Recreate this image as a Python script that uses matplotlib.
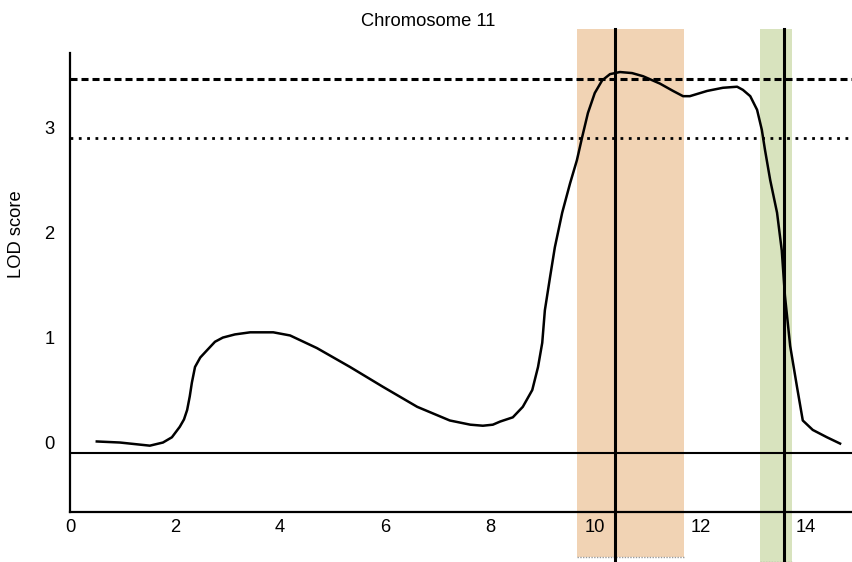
import matplotlib; matplotlib.use("Agg")
import matplotlib.pyplot as plt
import matplotlib.transforms as mtransforms
from matplotlib.patches import Rectangle

plt.rcParams.update({"font.family": ["Liberation Sans", "DejaVu Sans"], "font.size": 13.2})

# LOD profile (position, LOD)
pos = [0.51, 0.95, 1.33, 1.52, 1.77, 1.94, 2.09, 2.17, 2.23, 2.28, 2.32, 2.38, 2.48, 2.61,
       2.76, 2.91, 3.14, 3.43, 3.87, 4.19, 4.70, 5.33, 5.96, 6.61, 7.23, 7.62, 7.86, 8.05,
       8.19, 8.43, 8.62, 8.80, 8.91, 8.99, 9.04, 9.14, 9.23, 9.37, 9.52, 9.65, 9.75, 9.86,
       9.99, 10.13, 10.28, 10.47, 10.70, 10.91, 11.23, 11.48, 11.67, 11.80, 12.13, 12.43,
       12.70, 12.81, 12.95, 13.08, 13.17, 13.23, 13.33, 13.46, 13.55, 13.61, 13.71, 13.84,
       13.95, 14.14, 14.41, 14.66]
lod = [0.11, 0.10, 0.08, 0.07, 0.10, 0.15, 0.25, 0.32, 0.41, 0.54, 0.67, 0.82, 0.91, 0.98,
       1.06, 1.10, 1.13, 1.15, 1.15, 1.12, 1.00, 0.82, 0.63, 0.44, 0.31, 0.27, 0.26, 0.27,
       0.30, 0.34, 0.44, 0.60, 0.82, 1.05, 1.36, 1.68, 1.96, 2.29, 2.57, 2.79, 3.01, 3.24,
       3.43, 3.55, 3.61, 3.63, 3.62, 3.59, 3.52, 3.45, 3.40, 3.40, 3.45, 3.48,
       3.49, 3.46, 3.40, 3.27, 3.08, 2.89, 2.60, 2.29, 1.93, 1.50, 1.02, 0.63,
       0.31, 0.22, 0.15, 0.09]

thr_sig = 3.56   # dashed threshold
thr_sugg = 3.0   # dotted threshold
ci1 = (9.65, 11.69)   # orange interval
ci2 = (13.14, 13.75)  # green interval
peaks = [10.38, 13.59]

fig = plt.figure(figsize=(8.52, 5.62), dpi=100)
ax = fig.add_axes([70/852, 50/562, 782/852, 483/562])
ax.set_xlim(0, 14.887)
ax.set_ylim(-0.562, 4.04)

# intervalos sombreados (passam da borda do eixo)
ax.add_patch(Rectangle((ci1[0], -0.99), ci1[1]-ci1[0], 4.04+0.99, color="#F1D3B4",
                       lw=0, clip_on=False, zorder=0))
ax.add_patch(Rectangle((ci2[0], -1.06), ci2[1]-ci2[0], 4.04+1.06, color="#D8E3BE",
                       lw=0, clip_on=False, zorder=0))
ax.plot(ci1, [-0.99, -0.99], color="#999999", lw=1, ls=(0, (1, 1)), clip_on=False, zorder=0.5)
ax.plot(ci2, [-1.04, -1.04], color="#999999", lw=1, ls=(0, (1, 1)), clip_on=False, zorder=0.5)

ax.axhline(0, color="black", lw=1.5, zorder=2)
ax.axhline(thr_sig, color="black", lw=2.2, dashes=(2.3, 1.3), zorder=2)
ax.axhline(thr_sugg, color="black", lw=2.0, dashes=(1, 2), zorder=2)

for p in peaks:
    ax.plot([p, p], [-1.06, 4.04], color="black", lw=2.2, clip_on=False, zorder=3)

ax.plot(pos, lod, color="black", lw=1.8, zorder=4, solid_joinstyle="round")

for s in ["top", "right"]:
    ax.spines[s].set_visible(False)
ax.spines["left"].set_bounds(-0.562, 3.81)
ax.spines["left"].set_linewidth(1.6)
ax.spines["bottom"].set_linewidth(1.6)

ax.set_xticks([0, 2, 4, 6, 8, 10, 12, 14])
ax.set_yticks([0, 1, 2, 3])
ax.tick_params(length=0)
ax.tick_params(axis="x", pad=5)
ax.tick_params(axis="y", pad=11)
# rotulos do eixo y ficam um pouco acima do valor
off = mtransforms.ScaledTranslation(0, 0.11, fig.dpi_scale_trans)
for lab in ax.get_yticklabels():
    lab.set_transform(lab.get_transform() + off)

fig.text(428/852, 1-21/562, "Chromosome 11", ha="center", va="center")
fig.text(17/852, 1-234/562, "LOD score", rotation=90, ha="center", va="center")

fig.savefig("out.png", dpi=100)
